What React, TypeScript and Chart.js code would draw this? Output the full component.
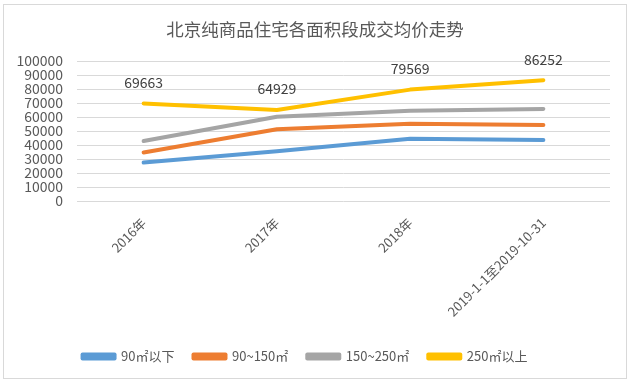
import React, { useEffect, useRef } from "react";
import { Chart, registerables } from "chart.js";

Chart.register(...registerables);

const title = "北京纯商品住宅各面积段成交均价走势";
const categories = ["2016年", "2017年", "2018年", "2019-1-1至2019-10-31"];
const seriesNames = ["90㎡以下", "90~150㎡", "150~250㎡", "250㎡以上"];
const under90 = [27500, 35500, 44400, 43600];
const s90to150 = [34700, 51200, 55200, 54300];
const s150to250 = [42800, 60200, 64500, 65800];
const over250 = [69663, 64929, 79569, 86252];
const colors = ["#5B9BD5", "#ED7D31", "#A5A5A5", "#FFC000"];
const yTicksMax = 100000;
const yStep = 10000;

const FONT = "'Noto Sans CJK SC', 'Noto Sans', sans-serif";
const TEXT = "#595959";

const frame = {
  id: "frame",
  beforeDraw(chart: any) {
    const { ctx, width, height } = chart;
    ctx.save();
    ctx.fillStyle = "#ffffff";
    ctx.fillRect(0, 0, width, height);
    ctx.strokeStyle = "#d9d9d9";
    ctx.lineWidth = 1;
    ctx.strokeRect(3.5, 4.5, 623, 374);
    ctx.font = `17.5px ${FONT}`;
    ctx.fillStyle = TEXT;
    ctx.textAlign = "center";
    ctx.textBaseline = "middle";
    ctx.fillText(title, 315, 29);
    ctx.restore();
  },
};

const valueLabels = {
  id: "valueLabels",
  afterDatasetsDraw(chart: any) {
    const { ctx } = chart;
    const idx = 3;
    const meta = chart.getDatasetMeta(idx);
    const data = chart.data.datasets[idx].data;
    ctx.save();
    ctx.font = `14px ${FONT}`;
    ctx.fillStyle = "#404040";
    ctx.textAlign = "center";
    ctx.textBaseline = "middle";
    meta.data.forEach((pt: any, i: number) => {
      ctx.fillText(String(data[i]), pt.x, pt.y - 21);
    });
    ctx.restore();
  },
};

export default function App() {
  const ref = useRef<HTMLCanvasElement>(null);
  useEffect(() => {
    if (!ref.current) return;
    const all = [under90, s90to150, s150to250, over250];
    const chart = new Chart(ref.current, {
      type: "line",
      data: {
        labels: categories,
        datasets: all.map((d, i) => ({
          label: seriesNames[i],
          data: d,
          borderColor: colors[i],
          backgroundColor: colors[i],
          borderWidth: 4,
          pointRadius: 0,
          borderCapStyle: "round" as const,
          borderJoinStyle: "round" as const,
          tension: 0,
        })),
      },
      options: {
        animation: false,
        responsive: true,
        maintainAspectRatio: false,
        layout: { padding: { left: 0, right: 24, top: 61, bottom: 14 } },
        plugins: {
          title: { display: false },
          legend: {
            position: "bottom",
            labels: {
              boxWidth: 32,
              boxHeight: 4,
              padding: 19,
              color: TEXT,
              font: { family: FONT, size: 13 },
            },
          },
          tooltip: { enabled: false },
        },
        scales: {
          x: {
            offset: true,
            grid: { display: false },
            border: { display: false },
            ticks: {
              color: TEXT,
              font: { family: FONT, size: 13 },
              minRotation: 45,
              maxRotation: 45,
              autoSkip: false,
              padding: 6,
            },
            afterFit(scale: any) {
              scale.height = 130;
            },
          },
          y: {
            min: 0,
            max: yTicksMax,
            grid: { color: "#d9d9d9", drawTicks: false },
            border: { display: false },
            ticks: {
              stepSize: yStep,
              autoSkip: false,
              color: TEXT,
              font: { family: FONT, size: 14, lineHeight: 1 },
              padding: 14,
              callback: (v: any) => String(v),
            },
            afterFit(scale: any) {
              scale.width = 77;
            },
          },
        },
      },
      plugins: [frame, valueLabels],
    });
    return () => chart.destroy();
  }, []);
  return (
    <div style={{ position: "fixed", left: 0, top: 0, width: 634, height: 387 }}>
      <canvas ref={ref} />
    </div>
  );
}
